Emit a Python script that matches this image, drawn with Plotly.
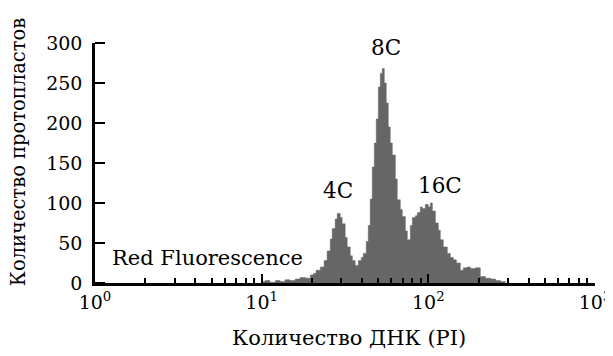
import plotly.graph_objects as go
import math

# DNA content (PI fluorescence, log scale) and number of protoplasts
dna = [10.1, 10.5, 11.2, 12.1, 12.9, 13.8, 14.8, 15.9, 17.0, 18.3, 19.6, 20.4, 21.2, 22.5,
       23.7, 24.7, 25.8, 26.5, 27.6, 28.4, 29.6, 30.4, 31.7, 32.6, 34.0, 35.0, 36.4, 38.0,
       39.6, 40.7, 42.4, 43.6, 44.8, 46.1, 47.4, 48.7, 50.1, 51.5, 52.9, 54.4, 55.9, 57.5,
       59.1, 60.8, 63.4, 65.1, 67.9, 69.8, 72.8, 74.8, 78.0, 80.2, 83.6, 85.9, 89.5, 92.0,
       95.9, 100, 102.8, 105.7, 110.2, 114.8, 118, 123, 130, 135.5, 141.3, 147.3, 155.6,
       162.2, 171.4, 178.7, 191.5, 205, 220, 236, 253, 271, 290]
counts = [2, 3, 1, 3, 2, 4, 3, 5, 7, 6, 10, 12, 16, 20,
          28, 40, 55, 68, 80, 87, 82, 74, 57, 45, 34, 28, 22, 28,
          32, 37, 52, 72, 105, 145, 175, 205, 245, 262, 268, 250, 225, 195,
          175, 160, 130, 104, 92, 83, 65, 54, 72, 82, 84, 88, 95, 93,
          98, 95, 100, 90, 75, 66, 54, 45, 37, 32, 29, 25, 16,
          19, 20, 18, 19, 8, 6, 5, 3, 2, 1]

x_major = [1, 10, 100, 1000]
x_major_text = ["10<sup>0</sup>", "10<sup>1</sup>", "10<sup>2</sup>", "10<sup>3</sup>"]
x_minor = [m * d for d in (1, 10, 100) for m in range(2, 10)]
y_ticks = [0, 50, 100, 150, 200, 250, 300]

peak_labels = ["4C", "8C", "16C"]
peak_x = [28.8, 56, 118]
peak_y = [116, 294, 122]

x_title = "Количество ДНК (PI)"
y_title = "Количество протопластов"

FONT = "DejaVu Serif"
YMAX = y_ticks[-1]

fig = go.Figure()
fig.add_trace(go.Scatter(
    x=dna, y=counts, mode="lines", line=dict(color="#666666", width=0.5, shape="hv"),
    fill="tozeroy", fillcolor="#666666", showlegend=False, hoverinfo="skip"))

# left axis line (outer half) and inside ticks as paper-referenced shapes
fig.add_shape(type="rect", xref="paper", yref="paper", x0=-0.005, x1=0, y0=0, y1=1,
              fillcolor="black", line=dict(width=0), layer="above")
for yv in y_ticks:
    fig.add_shape(type="line", xref="paper", yref="paper", x0=0, x1=0.02,
                  y0=yv / YMAX, y1=yv / YMAX, line=dict(color="black", width=2), layer="above")

for t, xv, yv in zip(peak_labels, peak_x, peak_y):
    fig.add_annotation(x=math.log10(xv), y=yv, text=t, showarrow=False,
                       font=dict(family=FONT, size=21.5, color="black"))
fig.add_annotation(x=math.log10(1.23), y=31, text="Red Fluorescence", showarrow=False,
                   xanchor="left", font=dict(family=FONT, size=21, color="black"))

# axis titles
fig.add_annotation(xref="paper", yref="paper", x=0.507, y=-0.229, text=x_title,
                   showarrow=False, xanchor="center", yanchor="middle",
                   font=dict(family=FONT, size=21, color="black"))
fig.add_annotation(xref="paper", yref="paper", x=-0.154, y=0.545, text=y_title,
                   showarrow=False, textangle=-90, xanchor="center", yanchor="middle",
                   font=dict(family=FONT, size=19.5, color="black"))

fig.update_layout(
    width=605, height=348, margin=dict(l=87, r=18, t=35, b=73, autoexpand=False),
    paper_bgcolor="white", plot_bgcolor="white",
    font=dict(family=FONT, size=19, color="black"),
    xaxis=dict(type="log", range=[0, 3], tickvals=x_major, ticktext=x_major_text,
               ticks="inside", ticklen=9, tickwidth=2, tickcolor="black",
               showline=True, linewidth=2.5, linecolor="black", showgrid=False,
               zeroline=False, automargin=False, layer="above traces",
               tickfont=dict(family=FONT, size=19),
               minor=dict(tickvals=x_minor, ticks="inside", ticklen=5, tickwidth=2,
                          tickcolor="black", showgrid=False)),
    yaxis=dict(range=[0, YMAX], tickvals=y_ticks, ticks="inside", ticklen=9, tickwidth=2,
               tickcolor="black", showline=True, linewidth=2.5, linecolor="black",
               showgrid=False, zeroline=False, automargin=False, ticklabelstandoff=6,
               tickfont=dict(family=FONT, size=19)),
)

fig.write_html("out.html")
